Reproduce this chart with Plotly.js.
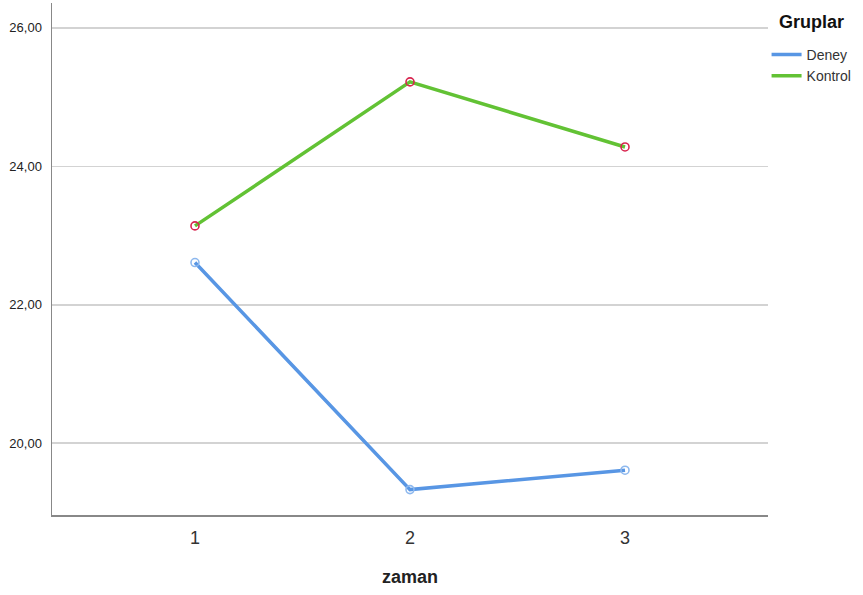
<!DOCTYPE html>
<html>
<head>
<meta charset="utf-8">
<script src="https://cdn.plot.ly/plotly-3.0.1.min.js"></script>
<style>html,body{margin:0;padding:0;background:#fff;}#chart{width:863px;height:595px;}</style>
</head>
<body>
<div id="chart"></div>
<script>
const zaman = [1, 2, 3];
const deney = [22.61, 19.33, 19.61];
const kontrol = [23.14, 25.22, 24.28];
const tickVals = [1, 2, 3];
const tickText = ['1', '2', '3'];

const blue = '#5896e4';
const green = '#62c234';
const traces = [
  {x: zaman, y: deney, name: 'Deney', mode: 'lines', line: {color: blue, width: 3.5}},
  {x: zaman, y: kontrol, name: 'Kontrol', mode: 'lines', line: {color: green, width: 3.5}},
  {x: zaman, y: deney, mode: 'markers', showlegend: false, hoverinfo: 'skip',
   marker: {symbol: 'circle-open', size: 8, color: '#8db8ee', line: {width: 1.6, color: '#8db8ee'}}},
  {x: zaman, y: kontrol, mode: 'markers', showlegend: false, hoverinfo: 'skip',
   marker: {symbol: 'circle-open', size: 8, color: '#d8254f', line: {width: 1.6, color: '#d8254f'}}}
];

const layout = {
  width: 863, height: 595,
  margin: {l: 52, r: 95, t: 3, b: 80},
  paper_bgcolor: '#fff', plot_bgcolor: '#fff',
  separators: ',.',
  font: {family: 'Liberation Sans, Arial, sans-serif', color: '#222'},
  xaxis: {
    range: [0.335, 3.665], tickvals: tickVals, ticktext: tickText,
    showgrid: false, zeroline: false,
    showline: true, linecolor: '#888', linewidth: 1.5,
    ticks: 'outside', ticklen: 6, tickcolor: 'rgba(0,0,0,0)',
    tickfont: {size: 18, color: '#333'},
    title: {text: '<b>zaman</b>', font: {size: 18, color: '#222'}, standoff: 23}
  },
  yaxis: {
    range: [18.963, 26.36], tickvals: [20, 22, 24, 26], tickformat: '.2f',
    showgrid: true, gridcolor: '#d3d3d3', gridwidth: 1.5, zeroline: false,
    showline: true, linecolor: '#888', linewidth: 1.5,
    ticks: 'outside', ticklen: 6, tickcolor: 'rgba(0,0,0,0)',
    tickfont: {size: 13, color: '#222'}
  },
  legend: {
    x: 0.998, xanchor: 'left', y: 0.93, yanchor: 'top',
    bgcolor: 'rgba(0,0,0,0)',
    font: {size: 14, color: '#333'},
    tracegroupgap: 0, itemwidth: 30
  },
  annotations: [{
    text: '<b>Gruplar</b>', xref: 'paper', yref: 'paper', x: 1.012, y: 0.963,
    xanchor: 'left', yanchor: 'middle', showarrow: false,
    font: {size: 18, color: '#111'}
  }],
  showlegend: true
};

Plotly.newPlot('chart', traces, layout, {displayModeBar: false, staticPlot: true});
</script>
</body>
</html>
